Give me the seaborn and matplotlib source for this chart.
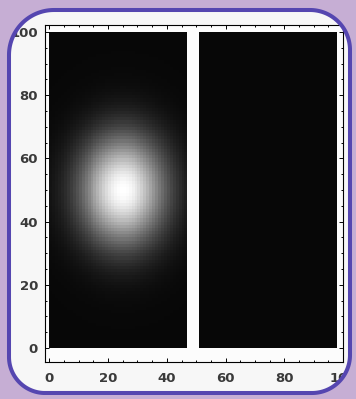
import numpy as np
import matplotlib
matplotlib.use("Agg")
import matplotlib.pyplot as plt
import seaborn as sns
from matplotlib.patches import PathPatch
from matplotlib.path import Path
from matplotlib.transforms import IdentityTransform
from matplotlib.ticker import MultipleLocator

# ---- data ----
x_ticks = [0, 20, 40, 60, 80, 100]
y_ticks = [0, 20, 40, 60, 80, 100]
grid_size = 100
blob_center = (25.0, 50.0)      # (x, y)
blob_sigma = (10.0, 12.0)       # (sx, sy)
blob_peak = 0.97
background_level = 0.03
left_panel_cols = (0, 47)       # columns with the glowing spot
gap_cols = (47, 51)             # white separator
right_panel_cols = (51, 98)     # dark panel

# ---- build image ----
xs = np.arange(grid_size) + 0.5
ys = np.arange(grid_size) + 0.5
X, Y = np.meshgrid(xs, ys)
Z = background_level + blob_peak * np.exp(
    -((X - blob_center[0]) ** 2 / (2 * blob_sigma[0] ** 2)
      + (Y - blob_center[1]) ** 2 / (2 * blob_sigma[1] ** 2)))
Z[:, right_panel_cols[0]:right_panel_cols[1]] = background_level
Z[:, gap_cols[0]:gap_cols[1]] = np.nan
Z[:, right_panel_cols[1]:] = np.nan

# ---- figure ----
W, H = 356, 399
PURPLE = "#c6aed4"
fig = plt.figure(figsize=(W / 100, H / 100), dpi=100)
fig.patch.set_facecolor(PURPLE)


def rounded_poly(x0, y0, x1, y1, r_bl, r_br, r_tr, r_tl, n=40):
    pts = []
    for cx, cy, r, a0 in [(x1 - r_br, y0 + r_br, r_br, -90),
                          (x1 - r_tr, y1 - r_tr, r_tr, 0),
                          (x0 + r_tl, y1 - r_tl, r_tl, 90),
                          (x0 + r_bl, y0 + r_bl, r_bl, 180)]:
        a = np.radians(np.linspace(a0, a0 + 90, n))
        pts.extend(zip(cx + r * np.cos(a), cy + r * np.sin(a)))
    return np.array(pts)


box_poly = rounded_poly(9, 6, 350, 389, r_bl=36, r_br=38, r_tr=40, r_tl=45)
box = PathPatch(Path(box_poly, closed=True), transform=IdentityTransform(),
                facecolor="#f7f7f7", edgecolor="none", zorder=-1)
fig.patches.append(box)

# purple mask outside the rounded box (hides label parts that overflow)
outer = Path([(-5, -5), (W + 5, -5), (W + 5, H + 5), (-5, H + 5), (-5, -5)],
             closed=True)
hole = Path(box_poly[::-1], closed=True)
mask = PathPatch(Path.make_compound_path(outer, hole),
                 transform=IdentityTransform(), facecolor=PURPLE,
                 edgecolor="none", zorder=9)
fig.patches.append(mask)

border = PathPatch(Path(box_poly, closed=True), transform=IdentityTransform(),
                   facecolor="none", edgecolor="#5546b0",
                   linewidth=2.9, zorder=10)
fig.patches.append(border)

ax = fig.add_axes([45 / W, (H - 362) / H, 298 / W, 337 / H])
sns.heatmap(Z, ax=ax, cmap="gray", vmin=0, vmax=1, cbar=False,
            xticklabels=False, yticklabels=False)
ax.set_facecolor("#fcfcfc")
ax.set_xlim(-1.5, 99.9)
ax.set_ylim(-4.4, 102.2)

for s in ax.spines.values():
    s.set_visible(True)
    s.set_color("black")
    s.set_linewidth(0.8)

ax.set_xticks(x_ticks)
ax.set_yticks(y_ticks)
ax.set_xticklabels([str(v) for v in x_ticks])
ax.set_yticklabels([str(v) for v in y_ticks])
ax.xaxis.set_minor_locator(MultipleLocator(5))
ax.yaxis.set_minor_locator(MultipleLocator(5))
ax.tick_params(which="both", direction="in", top=True, right=True,
               bottom=True, left=True, color="black", width=0.7)
ax.tick_params(which="major", length=3.0)
ax.tick_params(which="minor", length=1.5)
ax.tick_params(axis="x", which="major", pad=7)
ax.tick_params(axis="y", which="major", pad=5)
for lab in ax.get_xticklabels() + ax.get_yticklabels():
    lab.set_fontfamily("DejaVu Sans")
    lab.set_fontweight("bold")
    lab.set_fontsize(9.5)
    lab.set_color("#3a3a3a")
    lab.set_rotation(0)

fig.savefig("out.png", dpi=100, facecolor=fig.get_facecolor())
